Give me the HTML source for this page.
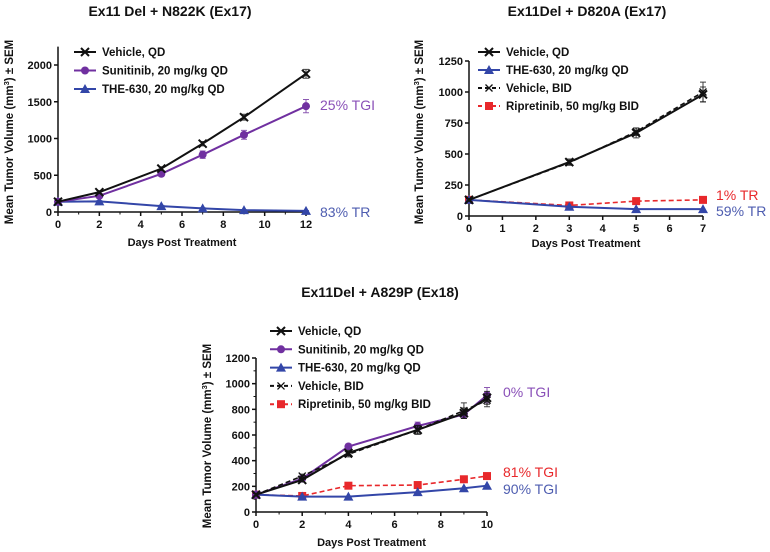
<!DOCTYPE html>
<html><head><meta charset="utf-8"><style>
body{margin:0;background:#fff;}
svg{display:block;font-family:"Liberation Sans",Arial,sans-serif;}
.t{font-weight:bold;fill:#111;}
</style></head><body>
<svg id="s" width="770" height="552" viewBox="0 0 770 552" xmlns="http://www.w3.org/2000/svg"></svg>
<script>
// ---- Chart 1 data ----
const c1Days=[0,2,5,7,9,12];
const c1Vehicle=[140,270,590,930,1290,1880];
const c1VehicleErr=[15,20,25,30,40,60];
const c1Sunitinib=[140,220,520,780,1050,1440];
const c1SunitinibErr=[15,20,30,50,60,90];
const c1The630=[140,145,80,50,25,15];
const c1The630Err=[10,10,10,8,5,5];
const c1YTicks=[0,500,1000,1500,2000];
const c1XTicks=[0,2,4,6,8,10,12];
// ---- Chart 2 data ----
const c2Days=[0,3,5,7];
const c2VehicleQD=[130,435,670,980];
const c2VehicleQDErr=[10,25,40,60];
const c2VehicleBID=[130,430,680,1000];
const c2VehicleBIDErr=[10,20,30,80];
const c2The630=[130,75,55,55];
const c2Ripretinib=[130,85,120,130];
const c2YTicks=[0,250,500,750,1000,1250];
const c2XTicks=[0,1,2,3,4,5,6,7];
// ---- Chart 3 data ----
const c3Days=[0,2,4,7,9,10];
const c3VehicleQD=[135,250,460,640,770,890];
const c3VehicleQDErr=[10,15,20,35,40,50];
const c3Sunitinib=[135,260,510,670,760,910];
const c3SunitinibErr=[10,15,20,30,30,60];
const c3The630=[135,120,120,155,185,205];
const c3VehicleBID=[135,280,450,640,790,870];
const c3VehicleBIDErr=[10,15,20,30,60,50];
const c3Ripretinib=[135,125,205,210,255,280];
const c3YTicks=[0,200,400,600,800,1000,1200];
const c3XTicks=[0,2,4,6,8,10];

const NS="http://www.w3.org/2000/svg";
const svg=document.getElementById('s');
function mk(tag,attrs,parent,text){const e=document.createElementNS(NS,tag);for(const k in attrs)e.setAttribute(k,attrs[k]);if(text!==undefined)e.textContent=text;(parent||svg).appendChild(e);return e;}
const PURPLE="#7030a0",BLUE="#3346a8",RED="#e8282b",BLACK="#111";

function marker(g,type,x,y,color){
  if(type==='x'){mk('path',{d:`M${x-4},${y-4}L${x+4},${y+4}M${x-4},${y+4}L${x+4},${y-4}`,stroke:color,'stroke-width':2},g);}
  else if(type==='xs'){mk('path',{d:`M${x-3.5},${y-3.5}L${x+3.5},${y+3.5}M${x-3.5},${y+3.5}L${x+3.5},${y-3.5}`,stroke:color,'stroke-width':1.3},g);}
  else if(type==='o'){mk('circle',{cx:x,cy:y,r:4,fill:color},g);}
  else if(type==='t'){mk('path',{d:`M${x},${y-5}L${x+5},${y+4}L${x-5},${y+4}Z`,fill:color},g);}
  else if(type==='s'){mk('rect',{x:x-4,y:y-4,width:8,height:8,fill:color},g);}
}

function chart(cfg){
  const g=mk('g',{});
  
  
  const sx=v=>cfg.x0+(v-cfg.xmin)*(cfg.x1-cfg.x0)/(cfg.xmax-cfg.xmin);
  const sy=v=>cfg.y0-(v)*(cfg.y0-cfg.y1)/cfg.ymaxRef;
  const t=mk('text',{x:cfg.tx,y:cfg.ty,'text-anchor':'middle','font-size':14,class:'t'},g,cfg.title);
  
  const ax=mk('g',{},g);
  mk('line',{x1:cfg.x0,y1:cfg.y0,x2:cfg.x0,y2:sy(cfg.yTop),stroke:BLACK,'stroke-width':1.5},ax);
  mk('line',{x1:cfg.x0,y1:cfg.y0,x2:sx(cfg.xmax),y2:cfg.y0,stroke:BLACK,'stroke-width':1.5},ax);
  cfg.yt.forEach(v=>{const y=sy(v);mk('line',{x1:cfg.x0-4,y1:y,x2:cfg.x0,y2:y,stroke:BLACK,'stroke-width':1.5},ax);
    const l=mk('text',{x:cfg.x0-6,y:y+4,'text-anchor':'end','font-size':11,class:'t'},ax,v);});
  if(cfg.yminor){for(let i=0;i<cfg.yt.length-1;i++){const y=sy((cfg.yt[i]+cfg.yt[i+1])/2);mk('line',{x1:cfg.x0-2.5,y1:y,x2:cfg.x0,y2:y,stroke:BLACK,'stroke-width':1},ax);}}
  for(let d=cfg.xmin;d<=cfg.xmax;d++){const x=sx(d);const major=cfg.xt.includes(d);mk('line',{x1:x,y1:cfg.y0,x2:x,y2:cfg.y0+(major?4:2.5),stroke:BLACK,'stroke-width':major?1.5:1},ax);}
  cfg.xt.forEach(v=>{const l=mk('text',{x:sx(v),y:cfg.y0+16,'text-anchor':'middle','font-size':11,class:'t'},ax,v);});
  const xl=mk('text',{x:(cfg.x0+sx(cfg.xmax))/2,y:cfg.xly,'text-anchor':'middle','font-size':11,class:'t'},g,'Days Post Treatment');
  
  const yl=mk('text',{x:0,y:0,'text-anchor':'middle','font-size':11.5,class:'t',transform:`translate(${cfg.ylx},${cfg.yly}) rotate(-90)`},g);
  
  yl.innerHTML='Mean Tumor Volume (mm<tspan dy="-4" font-size="7.5">3</tspan><tspan dy="4">) ± SEM</tspan>';
  cfg.series.forEach(s=>{
    const sg=mk('g',{},g);
    const pts=s.vals.map((v,i)=>[sx(cfg.days[i]),sy(v)]);
    mk('polyline',{points:pts.map(p=>p.join(',')).join(' '),fill:'none',stroke:s.color,'stroke-width':s.dash?1.6:2,'stroke-dasharray':s.dash?'5,3':'none'},sg);
    if(s.err)s.err.forEach((e,i)=>{const x=pts[i][0],y1=sy(s.vals[i]+e),y2=sy(s.vals[i]-e);
      mk('path',{d:`M${x},${y1}L${x},${y2}M${x-3},${y1}L${x+3},${y1}M${x-3},${y2}L${x+3},${y2}`,stroke:s.ecolor||s.color,'stroke-width':1,opacity:0.8},sg);});
    pts.forEach(p=>marker(sg,s.m,p[0],p[1],s.color));
  });
  const lg=mk('g',{},g);
  cfg.legend.forEach((s,i)=>{const y=cfg.ly+i*cfg.lstep;
    const e=mk('g',{},lg);
    mk('line',{x1:cfg.lx,y1:y,x2:cfg.lx+22,y2:y,stroke:s.color,'stroke-width':2,'stroke-dasharray':s.dash?'4,3':'none'},e);
    marker(e,s.m,cfg.lx+11,y,s.color);
    mk('text',{x:cfg.lx+28,y:y+4,'font-size':11.5,class:'t'},e,s.label);});
  cfg.notes.forEach(n=>{const a=mk('text',{x:n.x,y:n.y,'font-size':14,fill:n.c},g,n.t);});
}

chart({name:'chart-n822k',title:'Ex11 Del + N822K (Ex17)',tx:170,ty:16,x0:58,x1:306,xmin:0,xmax:12,y0:212,y1:65,ymaxRef:2000,yTop:2250,
  yt:c1YTicks,xt:c1XTicks,days:c1Days,xly:246,ylx:13,yly:132,lx:74,ly:52,lstep:18.5,
  series:[{name:'series-the630',vals:c1The630,err:c1The630Err,color:BLUE,m:'t'},
    {name:'series-sunitinib',vals:c1Sunitinib,err:c1SunitinibErr,color:PURPLE,m:'o'},
    {name:'series-vehicle-qd',vals:c1Vehicle,err:c1VehicleErr,color:BLACK,m:'x'}],
  legend:[{label:'Vehicle, QD',color:BLACK,m:'x'},{label:'Sunitinib, 20 mg/kg QD',color:PURPLE,m:'o'},{label:'THE-630, 20 mg/kg QD',color:BLUE,m:'t'}],
  notes:[{x:320,y:110,t:'25% TGI',c:'#8a50b8'},{x:320,y:217,t:'83% TR',c:'#4e5db0'}]});

chart({name:'chart-d820a',title:'Ex11Del +  D820A (Ex17)',tx:587,ty:16,x0:469,x1:703,xmin:0,xmax:7,y0:216,y1:61,ymaxRef:1250,yTop:1250,
  yt:c2YTicks,xt:c2XTicks,days:c2Days,xly:247,ylx:423,yly:132,lx:478,ly:52,lstep:18,
  series:[{name:'series-ripretinib',vals:c2Ripretinib,color:RED,m:'s',dash:true},
    {name:'series-the630',vals:c2The630,color:BLUE,m:'t'},
    {name:'series-vehicle-bid',vals:c2VehicleBID,err:c2VehicleBIDErr,color:BLACK,m:'xs',dash:true},
    {name:'series-vehicle-qd',vals:c2VehicleQD,err:c2VehicleQDErr,color:BLACK,m:'x'}],
  legend:[{label:'Vehicle, QD',color:BLACK,m:'x'},{label:'THE-630, 20 mg/kg QD',color:BLUE,m:'t'},{label:'Vehicle, BID',color:BLACK,m:'xs',dash:true},{label:'Ripretinib, 50 mg/kg BID',color:RED,m:'s',dash:true}],
  notes:[{x:716,y:200,t:'1% TR',c:RED},{x:716,y:216,t:'59% TR',c:'#4e5db0'}]});

chart({name:'chart-a829p',title:'Ex11Del + A829P (Ex18)',tx:380,ty:297,x0:256,x1:487,xmin:0,xmax:10,y0:512,y1:358,ymaxRef:1200,yTop:1200,
  yt:c3YTicks,xt:c3XTicks,days:c3Days,xly:546,ylx:211,yly:436,lx:270,ly:331,lstep:18.3,yminor:true,
  series:[{name:'series-ripretinib',vals:c3Ripretinib,color:RED,m:'s',dash:true},
    {name:'series-the630',vals:c3The630,color:BLUE,m:'t'},
    {name:'series-sunitinib',vals:c3Sunitinib,err:c3SunitinibErr,color:PURPLE,m:'o'},
    {name:'series-vehicle-bid',vals:c3VehicleBID,err:c3VehicleBIDErr,color:BLACK,m:'xs',dash:true},
    {name:'series-vehicle-qd',vals:c3VehicleQD,err:c3VehicleQDErr,color:BLACK,m:'x'}],
  legend:[{label:'Vehicle, QD',color:BLACK,m:'x'},{label:'Sunitinib, 20 mg/kg QD',color:PURPLE,m:'o'},{label:'THE-630, 20 mg/kg QD',color:BLUE,m:'t'},{label:'Vehicle, BID',color:BLACK,m:'xs',dash:true},{label:'Ripretinib, 50 mg/kg BID',color:RED,m:'s',dash:true}],
  notes:[{x:503,y:397,t:'0% TGI',c:'#8a50b8'},{x:503,y:477,t:'81% TGI',c:RED},{x:503,y:494,t:'90% TGI',c:'#4e5db0'}]});
</script>
</body></html>
